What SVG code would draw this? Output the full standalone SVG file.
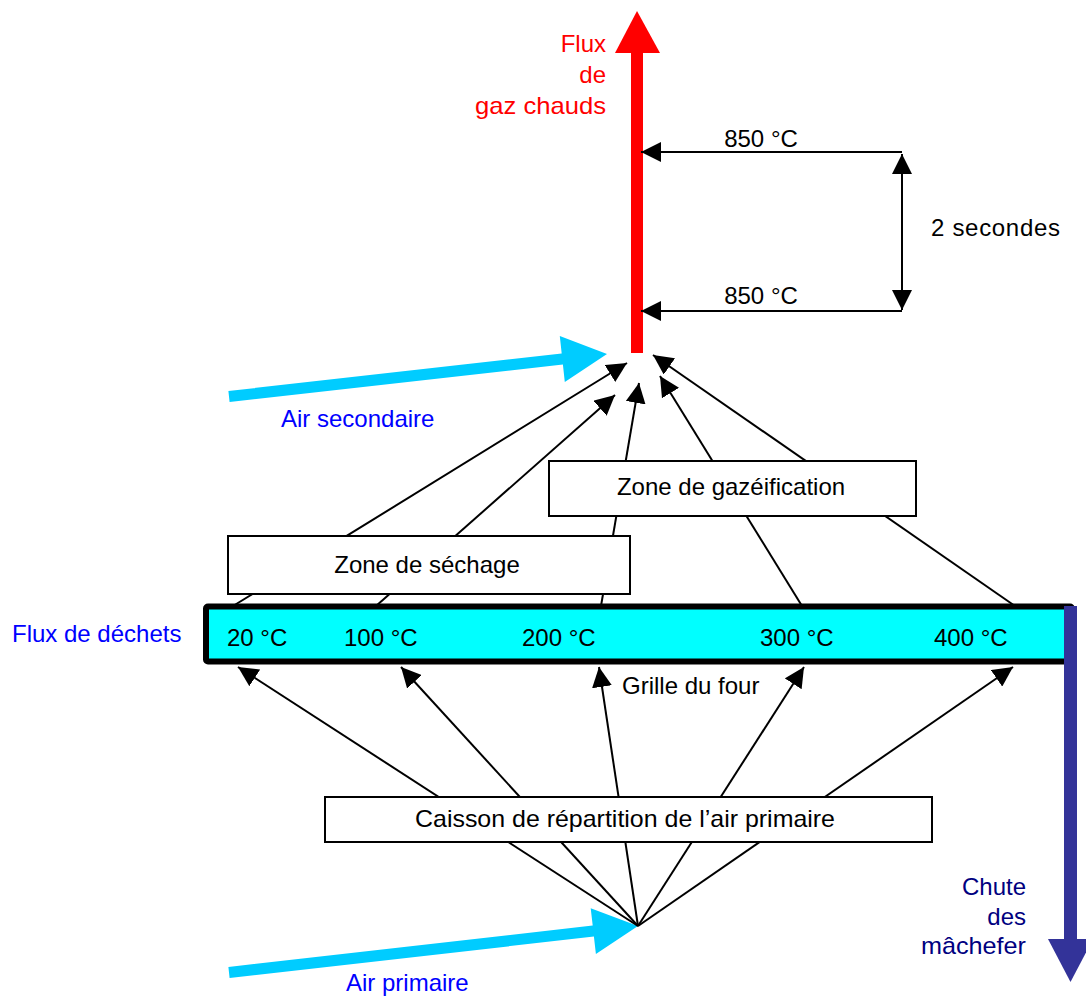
<svg xmlns="http://www.w3.org/2000/svg" width="1086" height="996" viewBox="0 0 1086 996">
<defs>
<style>
text{font-family:"Liberation Sans",Arial,sans-serif;font-size:24px;fill:#000}
.red{fill:#ff0000}
.blue{fill:#0000ff}
.navy{fill:#000080}
.box{fill:#fff;stroke:#000;stroke-width:2}
.ln{stroke:#000;stroke-width:2;fill:none}
.arr{marker-end:url(#ah)}
.mid{text-anchor:middle}
.end{text-anchor:end}
</style>
<marker id="ah" markerUnits="userSpaceOnUse" markerWidth="20" markerHeight="20" refX="20" refY="10" orient="auto">
<path d="M0,0 L20,10 L0,20 z" fill="#000"/>
</marker>
</defs>

<g id="flux-gaz">
<rect x="631" y="52" width="12" height="301" fill="#ff0000"/>
<polygon points="615,53 660,53 637,11" fill="#ff0000"/>
<text class="red end" x="606" y="52">Flux</text>
<text class="red end" x="606" y="83">de</text>
<text class="red end" x="606" y="114" textLength="131" lengthAdjust="spacingAndGlyphs">gaz chauds</text>
</g>

<g id="air-secondaire">
<polygon points="229.6,402 228.4,391 561.7,353.5 559.8,336.1 607,354 564.8,381.9 562.9,364.5" fill="#00ccff"/>
<text class="blue" x="281" y="427">Air secondaire</text>
</g>

<g id="air-primaire">
<polygon points="229.6,978 228.4,967 592.7,925.6 590.7,908.2 638,926 595.9,954 593.9,936.6" fill="#00ccff"/>
<text class="blue" x="346" y="991">Air primaire</text>
</g>

<g id="connectors">
<line class="ln arr" x1="902" y1="152" x2="641" y2="152"/>
<line class="ln arr" x1="902" y1="311" x2="641" y2="311"/>
<line class="ln arr" x1="902" y1="232" x2="902" y2="154"/>
<line class="ln arr" x1="902" y1="232" x2="902" y2="310"/>
<line class="ln arr" x1="233" y1="606" x2="627" y2="363"/>
<line class="ln arr" x1="376" y1="606" x2="615" y2="395"/>
<line class="ln arr" x1="601" y1="606" x2="639" y2="383"/>
<line class="ln arr" x1="802" y1="606" x2="660" y2="376"/>
<line class="ln arr" x1="1015" y1="606" x2="653" y2="355"/>
<line class="ln arr" x1="638" y1="926" x2="238" y2="667"/>
<line class="ln arr" x1="638" y1="926" x2="401" y2="667"/>
<line class="ln arr" x1="638" y1="926" x2="599" y2="667"/>
<line class="ln arr" x1="638" y1="926" x2="804" y2="667"/>
<line class="ln arr" x1="638" y1="926" x2="1013" y2="667"/>
</g>

<g id="temp-labels">
<text class="mid" x="761" y="147">850 °C</text>
<text class="mid" x="761" y="304">850 °C</text>
<text x="931" y="236" textLength="129" lengthAdjust="spacing">2 secondes</text>
</g>

<g id="zone-gazeification">
<rect class="box" x="549" y="461" width="367" height="55"/>
<text class="mid" x="731" y="495">Zone de gazéification</text>
</g>

<g id="zone-sechage">
<rect class="box" x="228" y="536" width="402" height="58"/>
<text class="mid" x="427" y="573">Zone de séchage</text>
</g>

<g id="caisson">
<rect class="box" x="325" y="797" width="607" height="45"/>
<text class="mid" x="625" y="827" textLength="420" lengthAdjust="spacingAndGlyphs">Caisson de répartition de l’air primaire</text>
</g>

<g id="grille">
<rect x="206" y="606.5" width="866" height="55" rx="2" fill="#00ffff" stroke="#000" stroke-width="6"/>
<text x="227" y="646">20 °C</text>
<text x="344" y="646">100 °C</text>
<text x="522" y="646">200 °C</text>
<text x="760" y="646">300 °C</text>
<text x="934" y="646">400 °C</text>
<text x="622" y="694">Grille du four</text>
</g>

<g id="flux-dechets">
<text class="blue" x="12" y="642">Flux de déchets</text>
</g>

<g id="chute-machefer">
<rect x="1064" y="606" width="13" height="334" fill="#333399"/>
<polygon points="1048,939 1093,939 1070.5,982" fill="#333399"/>
<text class="navy end" x="1026" y="895">Chute</text>
<text class="navy end" x="1026" y="925">des</text>
<text class="navy end" x="1026" y="954" textLength="105" lengthAdjust="spacingAndGlyphs">mâchefer</text>
</g>
</svg>
